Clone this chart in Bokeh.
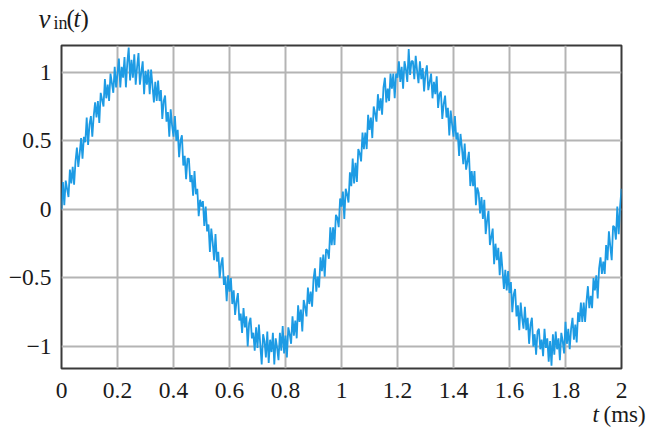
import numpy as np
from bokeh.plotting import figure
from bokeh.layouts import column
from bokeh.models import FixedTicker, CustomJSTickFormatter, Label, Range1d
from bokeh.embed import file_html
from bokeh.resources import INLINE

# ---- data ----
t_start_ms = 0.0
t_end_ms = 2.0
x_ticks = [0, 0.2, 0.4, 0.6, 0.8, 1, 1.2, 1.4, 1.6, 1.8, 2]
y_ticks = [-1, -0.5, 0, 0.5, 1]

v_cycle1 = [
    0.00, 0.20, 0.03, 0.21, 0.15, 0.09, 0.29, 0.19, 0.31, 0.18,
    0.35, 0.45, 0.31, 0.41, 0.52, 0.37, 0.53, 0.49, 0.67, 0.47,
    0.62, 0.68, 0.53, 0.68, 0.78, 0.67, 0.79, 0.63, 0.85, 0.80,
    0.75, 0.95, 0.81, 0.91, 0.79, 0.99, 0.92, 0.85, 1.04, 0.89,
    0.99, 1.10, 0.89, 1.04, 0.96, 1.11, 0.89, 1.07, 1.18, 0.94,
    1.09,
    0.96, 1.13, 0.91, 1.04, 1.14, 0.91, 1.00, 1.08, 0.84, 1.01,
    0.91, 1.02, 0.84, 1.02, 0.90, 0.78, 0.93, 0.79, 0.94, 0.79,
    0.87, 0.66, 0.79, 0.83, 0.64, 0.71, 0.53, 0.73, 0.61, 0.53,
    0.68, 0.50, 0.58, 0.38, 0.50, 0.54, 0.32, 0.39, 0.22, 0.37,
    0.37, 0.20, 0.25, 0.10, 0.28, 0.11, 0.15, -0.05, 0.07, 0.02,
    0.06, -0.12, 0.02, -0.16, -0.11, -0.31, -0.14, -0.24, -0.37, -0.18,
    -0.38, -0.31, -0.50, -0.40, -0.35, -0.55, -0.49, -0.67, -0.48, -0.60,
    -0.50, -0.69, -0.59, -0.77, -0.67, -0.61, -0.81, -0.76, -0.90, -0.72,
    -0.86, -0.78, -1.00, -0.83, -0.79, -0.94, -0.90, -1.03, -0.86, -1.01,
    -0.84, -0.99, -1.13, -0.91, -0.96, -1.08, -0.89, -1.12, -0.95, -1.04,
    -0.90, -1.13, -0.94, -1.01, -1.10, -0.90, -1.03, -0.85, -1.05, -0.92,
    -1.08, -0.86, -0.91, -0.98, -0.78, -0.92, -0.81, -0.94, -0.70, -0.82,
    -0.73, -0.89, -0.66, -0.71, -0.78, -0.57, -0.69, -0.60, -0.71, -0.51,
    -0.43, -0.60, -0.49, -0.57, -0.35, -0.45, -0.33, -0.49, -0.29, -0.30,
    -0.36, -0.13, -0.26, -0.13, -0.26, -0.04, -0.06, -0.13, 0.08,
]

v_cycle2 = [
    0.02, 0.13, -0.07, 0.15, 0.11, 0.05, 0.27, 0.17, 0.37, 0.19,
    0.34, 0.20, 0.44, 0.41, 0.35, 0.56, 0.44, 0.56, 0.44, 0.69,
    0.58, 0.67, 0.52, 0.75, 0.70, 0.64, 0.84, 0.72, 0.81, 0.69,
    0.89, 0.96, 0.78, 0.88, 0.79, 0.99, 0.88, 0.99, 0.81, 0.99,
    0.96, 1.08, 0.93, 1.04, 0.88, 1.08, 1.02, 0.93, 1.17, 0.98,
    1.08,
    1.08, 0.95, 1.12, 1.01, 0.92, 1.08, 0.95, 1.03, 0.86, 0.99,
    1.05, 0.87, 0.93, 0.99, 0.81, 0.93, 0.84, 0.97, 0.74, 0.84,
    0.86, 0.66, 0.77, 0.83, 0.67, 0.74, 0.54, 0.72, 0.62, 0.53,
    0.68, 0.51, 0.56, 0.39, 0.55, 0.45, 0.33, 0.48, 0.29, 0.35,
    0.42, 0.17, 0.28, 0.17, 0.28, 0.03, 0.16, 0.12, -0.03, 0.09,
    -0.07, 0.07, -0.18, -0.08, -0.01, -0.26, -0.20, -0.14, -0.40, -0.25,
    -0.37, -0.28, -0.48, -0.31, -0.44, -0.58, -0.44, -0.59, -0.45, -0.61,
    -0.53, -0.75, -0.62, -0.58, -0.78, -0.70, -0.88, -0.68, -0.79, -0.87,
    -0.71, -0.88, -0.79, -0.98, -0.84, -0.79, -1.00, -0.91, -1.06, -0.89,
    -0.87, -1.02, -0.95, -1.07, -0.87, -1.01, -0.94, -1.11, -0.96, -1.14,
    -0.91, -1.06, -0.89, -1.02, -0.94, -1.10, -0.90, -0.96, -1.05, -0.82,
    -0.98, -0.87, -1.02, -0.87, -0.79, -0.95, -0.84, -0.97, -0.75, -0.82,
    -0.68, -0.82, -0.68, -0.82, -0.67, -0.56, -0.72, -0.63, -0.72, -0.50,
    -0.59, -0.48, -0.65, -0.43, -0.35, -0.47, -0.38, -0.47, -0.26, -0.37,
    -0.16, -0.27, -0.37, -0.12, -0.13, -0.22, 0.02, -0.18, 0.02, 0.15,
]

v_in = v_cycle1 + v_cycle2
t_ms = np.linspace(t_start_ms, t_end_ms, len(v_in))

SERIF = "Liberation Serif"
TXT = "#1a1a1a"
W = 649
TOP_H, MAIN_H, BOT_H = 40, 364, 30

# ---------- main chart ----------
p = figure(width=W, height=MAIN_H, output_backend="svg", toolbar_location=None,
           x_range=Range1d(0, 2), y_range=Range1d(-1.16, 1.195),
           min_border_left=61, min_border_right=W - 621, min_border_top=5,
           min_border_bottom=36, background_fill_color="white",
           border_fill_color="white")

p.outline_line_color = "#3a3a3a"
p.outline_line_width = 2

fmt = CustomJSTickFormatter(code="""
const a = parseFloat(Math.abs(tick).toFixed(3)).toString();
return (tick < -1e-9 ? '\u2212' : '') + a;
""")

for ax in (p.xaxis[0], p.yaxis[0]):
    ax.axis_line_color = None
    ax.major_tick_line_color = None
    ax.minor_tick_line_color = None
    ax.major_label_text_font = SERIF
    ax.major_label_text_font_size = "23.5px"
    ax.major_label_text_color = TXT
    ax.formatter = fmt

p.xaxis[0].ticker = FixedTicker(ticks=x_ticks)
p.yaxis[0].ticker = FixedTicker(ticks=y_ticks)
p.xaxis[0].major_label_standoff = 8
p.yaxis[0].major_label_standoff = 4

p.xgrid[0].ticker = FixedTicker(ticks=x_ticks)
p.ygrid[0].ticker = FixedTicker(ticks=y_ticks)
for g in (p.xgrid[0], p.ygrid[0]):
    g.grid_line_color = "#b4b4b4"
    g.grid_line_width = 2

p.line(t_ms, v_in, line_color="#1d9be4", line_width=1.8)


# ---------- strips that carry the axis titles ----------
def strip(h):
    f = figure(width=W, height=h, output_backend="svg", toolbar_location=None,
               x_range=Range1d(0, W), y_range=Range1d(h, 0),
               x_axis_type=None, y_axis_type=None,
               min_border=0, min_border_left=0, min_border_right=0,
               min_border_top=0, min_border_bottom=0,
               background_fill_color="white", border_fill_color="white")
    f.outline_line_color = None
    f.xgrid.visible = False
    f.ygrid.visible = False
    return f


def lab(f, px, py, text, size, style="normal"):
    f.add_layout(Label(x=px, y=py, text=text, text_font=SERIF,
                       text_font_size=size, text_font_style=style,
                       text_color=TXT, text_baseline="alphabetic",
                       text_align="left"))


top = strip(TOP_H)
lab(top, 38, 18, "v", "27px", "italic")
lab(top, 53, 22, "in", "18px")
lab(top, 66, 18, "(", "25px")
lab(top, 73, 18, "t", "25px", "italic")
lab(top, 80, 18, ")", "25px")

bot = strip(BOT_H)
lab(bot, 592, 10, "t", "23px", "italic")
lab(bot, 603, 10, "(ms)", "23px")

# keep each strip's frame independent of the main chart's frame
for f in (top, p, bot):
    try:
        f.frame_align = False
    except Exception:
        pass

layout = column(top, p, bot, spacing=0)

open("out.html", "w").write(file_html(layout, INLINE))
